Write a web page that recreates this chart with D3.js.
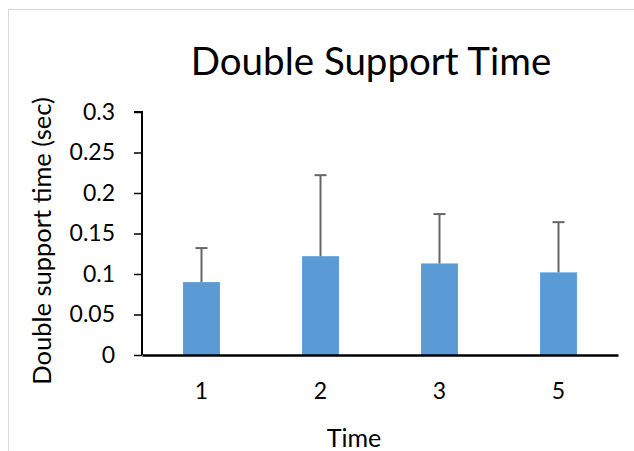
<!DOCTYPE html>
<html><head><meta charset="utf-8">
<script src="https://cdn.jsdelivr.net/npm/d3@7"></script>
<style>body{margin:0;background:#fff}svg{display:block}text{font-family:Lato,"Open Sans",sans-serif;fill:#000}</style>
</head><body>
<svg id="c" width="634" height="451"></svg>
<script>
const categories = ["1","2","3","5"];
const means = [0.090, 0.122, 0.113, 0.102];
const errors = [0.042, 0.100, 0.061, 0.062];
const yTicks = [0, 0.05, 0.1, 0.15, 0.2, 0.25, 0.3];
const yTickLabels = ["0","0.05","0.1","0.15","0.2","0.25","0.3"];

(function(){
const svg = d3.select("#c");
svg.append("rect").attr("x",8.5).attr("y",9.5).attr("width",640).attr("height",460)
  .attr("fill","#fff").attr("stroke","#d9d9d9").attr("stroke-width",1);

const pL=142, pR=618, pT=112, pB=355;
const x = d3.scaleBand().domain(categories).range([pL,pR]).paddingInner(0.69).paddingOuter(0.345);
const y = d3.scaleLinear().domain([0,0.3]).range([pB,pT]);

svg.append("g").selectAll("rect").data(categories).join("rect")
  .attr("x",d=>x(d)).attr("width",x.bandwidth())
  .attr("y",(d,i)=>y(means[i])).attr("height",(d,i)=>y(0)-y(means[i]))
  .attr("fill","#5b9bd5");

const eg = svg.append("g").attr("stroke","#666").attr("stroke-width",2);
categories.forEach((c,i)=>{
  const cx = x(c)+x.bandwidth()/2;
  eg.append("line").attr("x1",cx).attr("x2",cx).attr("y1",y(means[i])).attr("y2",y(means[i]+errors[i]));
  eg.append("line").attr("x1",cx-6).attr("x2",cx+6).attr("y1",y(means[i]+errors[i])).attr("y2",y(means[i]+errors[i]));
});

const ya = svg.append("g").attr("transform",`translate(${pL},0)`)
  .call(d3.axisLeft(y).tickValues(yTicks).tickFormat((d,i)=>yTickLabels[i]).tickSize(8).tickPadding(19));
ya.select(".domain").attr("stroke","#000").attr("stroke-width",2).attr("d",`M-8,${pT}H0V${pB}`);
ya.selectAll(".tick line").attr("stroke","#000").attr("stroke-width",1.5);
ya.selectAll(".tick text").attr("font-size",23).attr("font-family","Lato,sans-serif").attr("fill","#000");

const xa = svg.append("g").attr("transform",`translate(0,${pB})`)
  .call(d3.axisBottom(x).tickSize(0).tickPadding(28));
xa.select(".domain").attr("stroke","#000").attr("stroke-width",2.5);
xa.selectAll(".tick text").attr("font-size",23).attr("font-family","Lato,sans-serif").attr("fill","#000");

svg.append("text").attr("x",371).attr("y",75).attr("text-anchor","middle").attr("font-size",38.5).text("Double Support Time");
svg.append("text").attr("transform","translate(51,241) rotate(-90)").attr("text-anchor","middle").attr("font-size",25.5).text("Double support time (sec)");
svg.append("text").attr("x",354).attr("y",447).attr("text-anchor","middle").attr("font-size",25).text("Time");
})();
</script>
</body></html>
